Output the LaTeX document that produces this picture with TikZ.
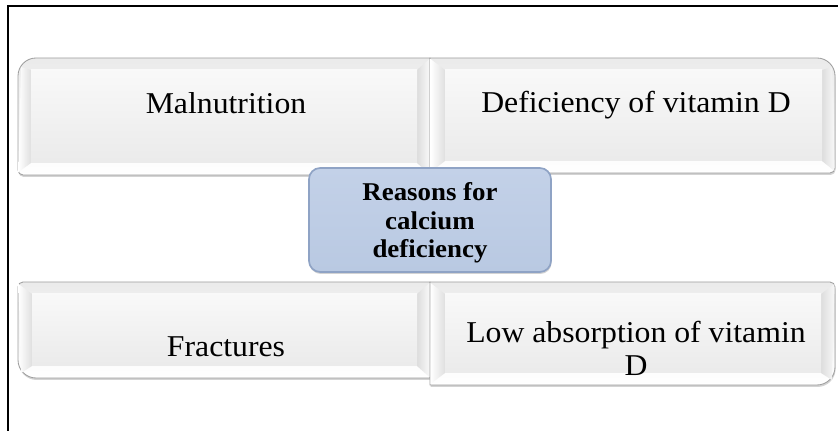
\documentclass[tikz,border=0pt]{standalone}
\usepackage{fontspec}
\setmainfont{Liberation Serif}[FakeStretch=1.05]
\usepackage{xcolor}
\usepackage{tikz}
\usetikzlibrary{shadows}
\definecolor{HubBlue}{HTML}{B9C9E2}
\definecolor{HubTop}{HTML}{C3D1E8}
\definecolor{HubEdge}{HTML}{8FA3C5}
\definecolor{EdgeGray}{HTML}{9E9E9E}

\begin{document}
\begin{tikzpicture}[
    x=0.025cm, y=0.025cm,
    outer/.style={draw=EdgeGray, line width=0.6pt, top color=gray!16, bottom color=white,
                  drop shadow={shadow xshift=0.4pt, shadow yshift=-1.4pt, opacity=0.35}},
    face/.style={top color=gray!5, bottom color=gray!16},
    lbevel/.style={left color=white, right color=gray!25},
    rbevel/.style={left color=gray!27, right color=gray!5},
    lbl/.style={font=\fontsize{21.5}{23.5}\selectfont, align=center, inner sep=0pt},
    hub/.style={draw=HubEdge, line width=1.2pt, top color=HubTop, bottom color=HubBlue,
                rounded corners=8pt, minimum width=6.05cm, minimum height=2.6cm,
                drop shadow={shadow xshift=0.4pt, shadow yshift=-1.4pt, opacity=0.35}},
    hubtxt/.style={align=center, inner sep=0pt, font=\fontsize{18.2}{20.3}\selectfont\bfseries}
  ]
    \useasboundingbox (0,0) rectangle (838,431);

    % Frame
    \draw[line width=1.7pt] (8,0) -- (8,425) -- (838,425);

    % Top row
    \path[outer] (430,256) -- (23,256) arc[start angle=270, end angle=180, radius=5]
        -- (18,355) arc[start angle=180, end angle=90, radius=18] -- (430,373) -- cycle;
    \path[lbevel] (18.5,259) -- (31,268) -- (31,361) -- (21,364) -- cycle;
    \path[rbevel] (429.5,257) -- (417,268) -- (417,361) -- (429.5,372) -- cycle;
    \path[face] (31,268) rectangle (417,361);

    \path[outer] (430,373) -- (817,373) arc[start angle=90, end angle=0, radius=18]
        -- (835,263) arc[start angle=0, end angle=-90, radius=5] -- (430,258) -- cycle;
    \path[lbevel] (430.5,259) -- (445,270) -- (445,361) -- (430.5,372) -- cycle;
    \path[rbevel] (834.5,260) -- (822,270) -- (822,361) -- (832,364) -- cycle;
    \path[face] (445,270) rectangle (822,361);

    % Bottom row
    \path[outer] (430,149) -- (23,149) arc[start angle=90, end angle=180, radius=5]
        -- (18,71) arc[start angle=180, end angle=270, radius=18] -- (430,53) -- cycle;
    \path[lbevel] (21,58) -- (32,65) -- (32,137) -- (18.5,147) -- cycle;
    \path[rbevel] (429.5,54) -- (417,65) -- (417,137) -- (429.5,148) -- cycle;
    \path[face] (32,65) rectangle (417,137);

    \path[outer] (430,149) -- (830,149) arc[start angle=90, end angle=0, radius=5]
        -- (835,64) arc[start angle=0, end angle=-90, radius=18] -- (430,46) -- cycle;
    \path[lbevel] (430.5,47) -- (445,58) -- (445,137) -- (430.5,148) -- cycle;
    \path[rbevel] (832,51) -- (821,58) -- (821,137) -- (834.5,147) -- cycle;
    \path[face] (445,58) rectangle (821,137);

    % Labels
    \node[lbl] (malnut) at (226,328) {Malnutrition};
    \node[lbl] (vitdef) at (636,326) {Deficiency of vitamin D};
    \node[lbl] (fract)  at (226,84)  {Fractures};
    \node[lbl] (lowabs) at (636,83)  {Low absorption of vitamin\\D};

    % Centre
    \node[hub] (reasons) at (430,211) {};
    \node[hubtxt] (reasonstxt) at (430,208) {Reasons for\\calcium\\deficiency};
  \end{tikzpicture}
\end{document}
